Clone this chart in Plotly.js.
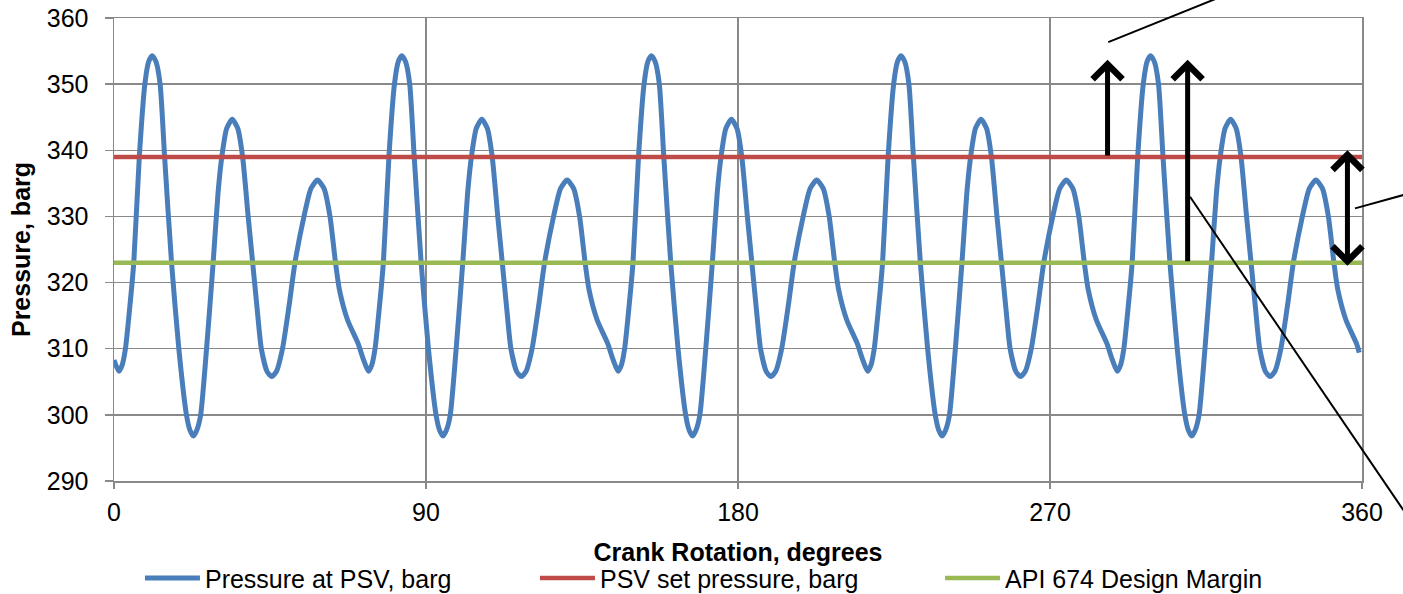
<!DOCTYPE html>
<html><head><meta charset="utf-8">
<script src="https://cdn.plot.ly/plotly-3.0.1.min.js"></script>
<style>html,body{margin:0;padding:0;background:#fff;overflow:hidden}#chart{width:1403px;height:594px}</style>
</head><body><div id="chart"></div>
<script>
// Crank rotation (degrees) and pressure at PSV (barg)
const crankAngle = [
  0, 1.4, 2.4, 3.3, 4.5, 5.7, 7.3, 8.9, 10.0, 11.0, 12.1, 13.3, 14.6, 16.6, 18.7, 20.9, 21.9, 22.9, 23.9, 25.0,
  26.7, 28.6, 30.0, 31.1, 32.5, 34.1, 35.7, 37.1, 38.7, 40.0, 41.3, 42.5, 44.2, 45.5, 46.8, 48.6, 50.5, 52.2, 54.8, 56.8,
  58.7, 60.6, 62.3, 63.9, 65.0, 67.4, 70.4,
  72, 73.4, 74.4, 75.3, 76.5, 77.7, 79.3, 80.9, 82.0, 83.0, 84.1, 85.3, 86.6, 88.6, 90.7, 92.9, 93.9, 94.9, 95.9, 97.0,
  98.7, 100.6, 102.0, 103.1, 104.5, 106.1, 107.7, 109.1, 110.7, 112.0, 113.3, 114.5, 116.2, 117.5, 118.8, 120.6, 122.5, 124.2, 126.8, 128.8,
  130.7, 132.6, 134.3, 135.9, 137.0, 139.4, 142.4,
  144, 145.4, 146.4, 147.3, 148.5, 149.7, 151.3, 152.9, 154.0, 155.0, 156.1, 157.3, 158.6, 160.6, 162.7, 164.9, 165.9, 166.9, 167.9, 169.0,
  170.7, 172.6, 174.0, 175.1, 176.5, 178.1, 179.7, 181.1, 182.7, 184.0, 185.3, 186.5, 188.2, 189.5, 190.8, 192.6, 194.5, 196.2, 198.8, 200.8,
  202.7, 204.6, 206.3, 207.9, 209.0, 211.4, 214.4,
  216, 217.4, 218.4, 219.3, 220.5, 221.7, 223.3, 224.9, 226.0, 227.0, 228.1, 229.3, 230.6, 232.6, 234.7, 236.9, 237.9, 238.9, 239.9, 241.0,
  242.7, 244.6, 246.0, 247.1, 248.5, 250.1, 251.7, 253.1, 254.7, 256.0, 257.3, 258.5, 260.2, 261.5, 262.8, 264.6, 266.5, 268.2, 270.8, 272.8,
  274.7, 276.6, 278.3, 279.9, 281.0, 283.4, 286.4,
  288, 289.4, 290.4, 291.3, 292.5, 293.7, 295.3, 296.9, 298.0, 299.0, 300.1, 301.3, 302.6, 304.6, 306.7, 308.9, 309.9, 310.9, 311.9, 313.0,
  314.7, 316.6, 318.0, 319.1, 320.5, 322.1, 323.7, 325.1, 326.7, 328.0, 329.3, 330.5, 332.2, 333.5, 334.8, 336.6, 338.5, 340.2, 342.8, 344.8,
  346.7, 348.6, 350.3, 351.9, 353.0, 355.4, 358.4, 359.2
];
const pressureAtPSV = [
  308.3, 306.6, 307.6, 310, 316, 323, 339, 350, 353.4, 354.3, 353.4, 350, 339, 323, 310, 300, 297.7, 296.8, 297.7, 300,
  310, 323, 333.5, 339, 343.3, 344.7, 343.3, 339, 330, 323, 316, 310, 306.5, 305.8, 306.5, 310, 316.5, 323, 330, 334.2,
  335.5, 334.2, 330, 323, 319, 314.3, 310.8,
  308.3, 306.6, 307.6, 310, 316, 323, 339, 350, 353.4, 354.3, 353.4, 350, 339, 323, 310, 300, 297.7, 296.8, 297.7, 300,
  310, 323, 333.5, 339, 343.3, 344.7, 343.3, 339, 330, 323, 316, 310, 306.5, 305.8, 306.5, 310, 316.5, 323, 330, 334.2,
  335.5, 334.2, 330, 323, 319, 314.3, 310.8,
  308.3, 306.6, 307.6, 310, 316, 323, 339, 350, 353.4, 354.3, 353.4, 350, 339, 323, 310, 300, 297.7, 296.8, 297.7, 300,
  310, 323, 333.5, 339, 343.3, 344.7, 343.3, 339, 330, 323, 316, 310, 306.5, 305.8, 306.5, 310, 316.5, 323, 330, 334.2,
  335.5, 334.2, 330, 323, 319, 314.3, 310.8,
  308.3, 306.6, 307.6, 310, 316, 323, 339, 350, 353.4, 354.3, 353.4, 350, 339, 323, 310, 300, 297.7, 296.8, 297.7, 300,
  310, 323, 333.5, 339, 343.3, 344.7, 343.3, 339, 330, 323, 316, 310, 306.5, 305.8, 306.5, 310, 316.5, 323, 330, 334.2,
  335.5, 334.2, 330, 323, 319, 314.3, 310.8,
  308.3, 306.6, 307.6, 310, 316, 323, 339, 350, 353.4, 354.3, 353.4, 350, 339, 323, 310, 300, 297.7, 296.8, 297.7, 300,
  310, 323, 333.5, 339, 343.3, 344.7, 343.3, 339, 330, 323, 316, 310, 306.5, 305.8, 306.5, 310, 316.5, 323, 330, 334.2,
  335.5, 334.2, 330, 323, 319, 314.3, 310.8, 309.4
];
// Horizontal reference lines
const refLineX = [0, 360];
const psvSetPressure = [339, 339];
const apiDesignMargin = [323, 323];
// Tick values
const xTickVals = [0, 90, 180, 270, 360];
const yTickVals = [290, 300, 310, 320, 330, 340, 350, 360];
// Arrows (angle, from, to)
const arrowAngle = [286.6, 309.7, 355.8];
const arrowFrom = [339, 323, 322.3];
const arrowTo = [353.7, 353.7, 340.0];
const arrowBothEnds = [false, false, true];

const FONT = 'Liberation Sans, Arial, sans-serif';
const GRID = '#898989';

const traces = [
  {x: crankAngle, y: pressureAtPSV, type: 'scatter', mode: 'lines', name: 'Pressure at PSV, barg',
   line: {color: '#4A7EBB', width: 5, shape: 'spline', smoothing: 0.6}, legend: 'legend'},
  {x: refLineX, y: psvSetPressure, type: 'scatter', mode: 'lines', name: 'PSV set pressure, barg',
   line: {color: '#BE4B48', width: 4.5}, legend: 'legend2'},
  {x: refLineX, y: apiDesignMargin, type: 'scatter', mode: 'lines', name: 'API 674 Design Margin',
   line: {color: '#98B954', width: 4.5}, legend: 'legend3'}
];

const annotations = arrowAngle.map((a, i) => ({
  x: a, y: arrowTo[i], ax: a, ay: arrowFrom[i], xref: 'x', yref: 'y', axref: 'x', ayref: 'y',
  text: '', showarrow: true, arrowhead: 4, arrowsize: 1.15, arrowwidth: 5, arrowcolor: '#000',
  arrowside: arrowBothEnds[i] ? 'end+start' : 'end', startarrowhead: 4, startarrowsize: 1.15,
  standoff: 0, startstandoff: 0
}));

const leader = {type: 'line', xref: 'paper', yref: 'paper', line: {color: '#000', width: 2}};
const shapes = [
  Object.assign({x0: 0.7967, y0: 0.9478, x1: 0.8894, y1: 1.0485}, leader),
  Object.assign({x0: 0.8622, y0: 0.6138, x1: 1.0385, y1: -0.0841}, leader),
  Object.assign({x0: 0.9944, y0: 0.5888, x1: 1.0385, y1: 0.6216}, leader)
];

const legendBase = {orientation: 'h', yanchor: 'middle', y: -0.21, xanchor: 'left',
  font: {family: FONT, size: 25, color: '#000'}, bgcolor: 'rgba(0,0,0,0)', itemwidth: 55, borderwidth: 0};

const layout = {
  width: 1403, height: 594,
  margin: {l: 114, r: 41, t: 17.5, b: 112.5, autoexpand: false},
  paper_bgcolor: '#fff', plot_bgcolor: '#fff',
  font: {family: FONT, size: 25, color: '#000'},
  showlegend: true,
  legend: Object.assign({}, legendBase, {x: 0.0208}),
  legend2: Object.assign({}, legendBase, {x: 0.3373}),
  legend3: Object.assign({}, legendBase, {x: 0.6619}),
  xaxis: {
    range: [0, 360], tickvals: xTickVals, ticktext: xTickVals.map(String),
    showgrid: true, gridcolor: GRID, gridwidth: 1.5, zeroline: false,
    showline: true, linecolor: GRID, linewidth: 1.5, mirror: true,
    ticks: 'outside', ticklen: 6, tickwidth: 1.5, tickcolor: GRID,
    tickfont: {family: FONT, size: 25, color: '#000'}, ticklabelstandoff: 2,
    title: {text: '<b>Crank Rotation, degrees</b>', font: {family: FONT, size: 25, color: '#000'}, standoff: 19},
    automargin: false
  },
  yaxis: {
    range: [290, 360], tickvals: yTickVals, ticktext: yTickVals.map(String),
    showgrid: true, gridcolor: GRID, gridwidth: 1.5, zeroline: false,
    showline: true, linecolor: GRID, linewidth: 1.5, mirror: true,
    ticks: 'outside', ticklen: 8, tickwidth: 1.5, tickcolor: GRID,
    tickfont: {family: FONT, size: 25, color: '#000'}, ticklabelstandoff: 11,
    title: {text: '<b>Pressure, barg</b>', font: {family: FONT, size: 25, color: '#000'}, standoff: 9},
    automargin: false
  },
  annotations: annotations,
  shapes: shapes
};

Plotly.newPlot('chart', traces, layout, {displayModeBar: false, staticPlot: true});
</script>
</body></html>
